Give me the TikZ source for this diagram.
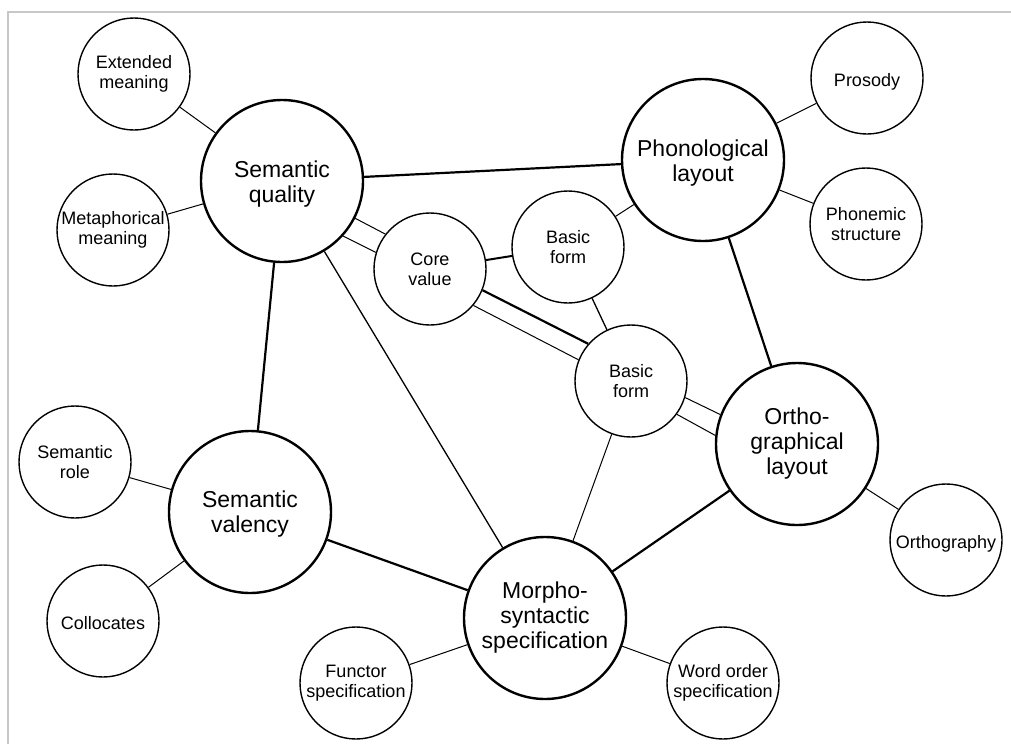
\documentclass[tikz,border=0pt]{standalone}
\usepackage{fontspec}
\setmainfont{Liberation Sans}
\newcommand\lowtext[2]{\raisebox{#1}[\height][\depth]{\begin{tabular}{@{}c@{}}#2\end{tabular}}}
\begin{document}
\begin{tikzpicture}[x=1pt,y=-1pt,
  small/.style={circle, draw, line width=1.4pt, fill=white, minimum size=112pt, inner sep=0pt, align=center, font=\fontsize{18}{20}\selectfont},
  smallone/.style={small, text height=17pt, text depth=0pt},
  big/.style={circle, draw, line width=2.4pt, fill=white, minimum size=162pt, inner sep=0pt, align=center, font=\fontsize{23}{25}\selectfont},
  thicklink/.style={line width=2.2pt},
  midlink/.style={line width=1.3pt},
  thinlink/.style={line width=1pt},
  frameline/.style={line width=1.2pt, draw={rgb,255:red,200;green,200;blue,200}}
]
\useasboundingbox (0,0) rectangle (1011,744);
\coordinate (f1) at (1011,12);
\coordinate (f2) at (8,12);
\coordinate (f3) at (8,744);
\draw[frameline] (f1) -- (f2) -- (f3);

% nodes
\node[small] (em) at (134,74) {Extended\\meaning};
\node[small] (mm) at (113,230) {Metaphorical\\meaning};
\node[big]   (sq) at (282,181) {\lowtext{-3.5pt}{Semantic\\quality}};
\node[big]   (pl) at (703,160) {\lowtext{-4pt}{Phonological\\layout}};
\node[smallone] (pr) at (867,78) {Prosody};
\node[small] (ps) at (866,224) {Phonemic\\structure};
\node[small] (cv) at (430,269) {Core\\value};
\node[small] (bfa) at (568,247) {Basic\\form};
\node[small] (bfb) at (631,381) {Basic\\form};
\node[big]   (ol) at (797,444) {Ortho-\\graphical\\layout};
\node[smallone] (og) at (946,540) {Orthography};
\node[small] (sr) at (75,462) {Semantic\\role};
\node[big]   (sv) at (250,512) {\lowtext{-3pt}{Semantic\\valency}};
\node[smallone] (co) at (103,621) {Collocates};
\node[big]   (ms) at (545,618) {Morpho-\\syntactic\\specification};
\node[small] (fs) at (356,683) {Functor\\specification};
\node[small] (wo) at (723,683) {Word order\\specification};

% thick links
\draw[thicklink] (sq) -- (pl);
\draw[thicklink] (sq) -- (sv);
\draw[thicklink] (sv) -- (ms);
\draw[thicklink] (ms) -- (ol);
\draw[thicklink] (pl) -- (ol);
\draw[line width=2pt] (cv) -- (bfa);
\draw[thicklink] (cv.-22) -- (bfb.139);

% medium links
\draw[midlink] (sq) -- (ms);
\draw[midlink] (bfa) -- (bfb);

% thin links
\draw[thinlink] (em) -- (sq);
\draw[thinlink] (mm) -- (sq);
\draw[thinlink] (pr) -- (pl);
\draw[thinlink] (ps) -- (pl);
\draw[thinlink] (sr) -- (sv);
\draw[thinlink] (co) -- (sv);
\draw[thinlink] (fs) -- (ms);
\draw[thinlink] (wo) -- (ms);
\draw[thinlink] (og) -- (ol);
\draw[thinlink] (bfa) -- (pl);
\draw[thinlink] (bfb) -- (ms);
\draw[thinlink] (sq.-42) -- (cv.163);
\draw[thinlink] (sq.-27) -- (cv.142);
\draw[thinlink] (cv.-40) -- (bfb.158);
\draw[thinlink] (bfb.-17) -- (ol.159);
\draw[thinlink] (bfb.-36) -- (ol.174);
\end{tikzpicture}
\end{document}
